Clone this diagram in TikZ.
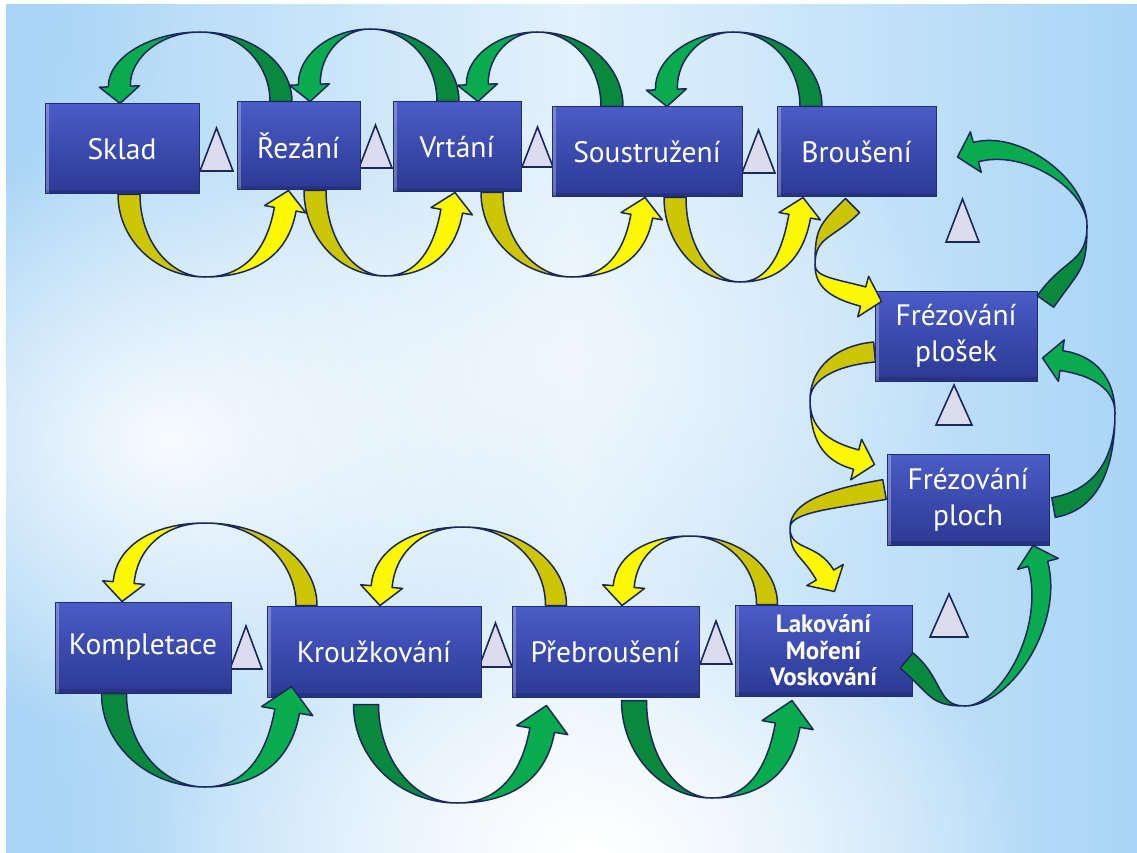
\documentclass[tikz,border=0pt]{standalone}
\usepackage{fontspec}
\setmainfont{PT Sans}
\usetikzlibrary{calc,fadings}

\definecolor{boxtop}{HTML}{4A5CC6}
\definecolor{boxbot}{HTML}{2C3994}
\definecolor{boxline}{HTML}{212D72}
\definecolor{edge}{HTML}{1B285E}
\definecolor{greendark}{HTML}{0A883D}
\definecolor{greenlight}{HTML}{08AC4F}
\definecolor{yellowdark}{HTML}{CDC500}
\definecolor{yellowlight}{HTML}{FBF800}
\definecolor{trifill}{HTML}{DCDCEE}
\definecolor{bgedge}{HTML}{A9D5F6}
\definecolor{bgmid}{HTML}{E2F1FC}

\tikzfading[name=softblob, inner color=transparent!0, outer color=transparent!100]

% band widths, head half-width and head length of the curved block arrows
\newcommand\babw{22}
\newcommand\bahw{20}
\newcommand\bahl{17}

% read a named coordinate into \<name>x, \<name>y (pt, canvas)
\newcommand\getpt[1]{%
  \pgfpointanchor{#1}{center}\pgfgetlastxy\tmpgx\tmpgy
  \pgfmathsetmacro\tmpa{\tmpgx}\pgfmathsetmacro\tmpb{\tmpgy}%
  \expandafter\let\csname #1x\endcsname\tmpa
  \expandafter\let\csname #1y\endcsname\tmpb}
% point #1 = (#2,#3) + #4 * (cos #5, sin #5)
\newcommand\setpt[5]{%
  \pgfmathsetmacro\tmpa{(#2)+(#4)*cos(#5)}%
  \pgfmathsetmacro\tmpb{(#3)+(#4)*sin(#5)}%
  \expandafter\let\csname #1x\endcsname\tmpa
  \expandafter\let\csname #1y\endcsname\tmpb
  \coordinate (#1) at (\tmpa pt,\tmpb pt);}
% projection of (#2 - #3) on direction #4
\newcommand\proj[4]{%
  \pgfmathsetmacro#1{((\csname #2x\endcsname)-(\csname #3x\endcsname))*cos(#4)+((\csname #2y\endcsname)-(\csname #3y\endcsname))*sin(#4)}}

% curved block arrow: #1 colour family, #2 tail point, #3 tail direction,
% #4 turning point, #5 direction there, #6 tip, #7 head direction
\newcommand\bandarrow[7]{%
  \path #2 coordinate (baT) #4 coordinate (baA) #6 coordinate (baH);
  \getpt{baT}\getpt{baA}\getpt{baH}%
  \pgfmathsetmacro\bas{ifthenelse(sin(#5-#3)>0,1,-1)}%
  \pgfmathsetmacro\bant{#3-\bas*90}%
  \pgfmathsetmacro\banh{#7-\bas*90}%
  \setpt{baB}{\baHx}{\baHy}{-\bahl}{#7}%
  \setpt{baTo}{\baTx}{\baTy}{0.5*\babw}{\bant}%
  \setpt{baTi}{\baTx}{\baTy}{-0.5*\babw}{\bant}%
  \setpt{baBo}{\baBx}{\baBy}{0.5*\babw}{\banh}%
  \setpt{baBi}{\baBx}{\baBy}{-0.5*\babw}{\banh}%
  \setpt{baPo}{\baBx}{\baBy}{\bahw}{\banh}%
  \setpt{baPi}{\baBx}{\baBy}{-\bahw}{\banh}%
  \proj\baa{baA}{baTo}{#3}\setpt{baCa}{\baTox}{\baToy}{0.5523*(\baa)}{#3}%
  \proj\baa{baA}{baTo}{#5}\setpt{baCb}{\baAx}{\baAy}{-0.5523*(\baa)}{#5}%
  \proj\baa{baA}{baTi}{#5}\setpt{baCc}{\baAx}{\baAy}{-0.5523*(\baa)}{#5}%
  \proj\baa{baA}{baTi}{#3}\setpt{baCd}{\baTix}{\baTiy}{0.5523*(\baa)}{#3}%
  \proj\baa{baBo}{baA}{#5}\setpt{baCe}{\baAx}{\baAy}{0.5523*(\baa)}{#5}%
  \proj\baa{baBo}{baA}{#7}\setpt{baCf}{\baBox}{\baBoy}{-0.5523*(\baa)}{#7}%
  \proj\baa{baBi}{baA}{#7}\setpt{baCg}{\baBix}{\baBiy}{-0.5523*(\baa)}{#7}%
  \proj\baa{baBi}{baA}{#5}\setpt{baCh}{\baAx}{\baAy}{0.5523*(\baa)}{#5}%
  \filldraw[band, fill=#1dark] (baTo) .. controls (baCa) and (baCb) .. (baA)
    .. controls (baCc) and (baCd) .. (baTi) -- cycle;
  \filldraw[band, fill=#1light] (baA) .. controls (baCe) and (baCf) .. (baBo)
    -- (baPo) -- (baH) -- (baPi) -- (baBi) .. controls (baCg) and (baCh) .. (baA) -- cycle;
}

% small waiting triangle: left x, right x, top y, bottom y
\newcommand\waittri[4]{%
  \filldraw[tristyle] (#1,#4) -- ({(#1+#2)/2},#3) -- (#2,#4) -- cycle;}

\tikzset{
  band/.style={draw=edge, line width=1.5pt, line join=round},
  tristyle/.style={fill=trifill, draw=edge, line width=1.6pt, line join=miter},
  stage/.style={draw=boxline, line width=1pt, top color=boxtop, bottom color=boxbot,
    text=white, align=center, inner sep=0pt,
    font=\fontsize{29.5}{36}\selectfont,
    path picture={
      \fill[white, opacity=0.28] (path picture bounding box.north west)
        rectangle ([xshift=4pt]path picture bounding box.south west);
      \fill[black, opacity=0.12] (path picture bounding box.south west)
        rectangle ([yshift=4pt]path picture bounding box.south east);
    }},
  glow/.style={fill=white, path fading=softblob, opacity=0.7},
}

\begin{document}
\begin{tikzpicture}[x=1pt, y=-1pt]
\useasboundingbox (0,0) rectangle (1137,853);

% background
\fill[white] (0,0) rectangle (1137,853);
\begin{scope}
  \clip (6,5) rectangle (1137,853);
  \shade[left color=bgedge, right color=bgedge, middle color=bgmid] (6,5) rectangle (1137,853);
  \fill[white, path fading=softblob] (590,850) ellipse (440 and 270);
  \fill[white, path fading=softblob, opacity=0.9] (170,440) ellipse (380 and 300);
  \fill[white, path fading=softblob, opacity=0.5] (560,360) ellipse (420 and 260);
  \fill[bgedge, path fading=softblob, opacity=0.7] (6,5) ellipse (170 and 150);
  \fill[bgedge, path fading=softblob, opacity=0.7] (6,853) ellipse (170 and 200);
\end{scope}

% waiting triangles
\waittri{200}{233}{128}{171}
\waittri{359}{392}{125}{168}
\waittri{522}{553}{127}{167}
\waittri{742}{775}{130}{173}
\waittri{946}{979}{199}{242}
\waittri{936}{972}{385}{425}
\waittri{930}{968}{594}{637}
\waittri{230}{262}{626}{669}
\waittri{479}{512}{623}{667}
\waittri{700}{732}{621}{664}

% stages
\node[stage, minimum width=154pt, minimum height=90pt] (sklad) at (122,149) {Sklad};
\node[stage, minimum width=123pt, minimum height=88pt] (rezani) at (298.5,146) {Řezání};
\node[stage, minimum width=128pt, minimum height=90pt] (vrtani) at (457,147) {Vrtání};
\node[stage, minimum width=190pt, minimum height=90pt] (soustruzeni) at (647,152) {Soustružení};
\node[stage, minimum width=159pt, minimum height=90pt] (brouseni) at (856.5,152) {Broušení};
\node[stage, minimum width=162pt, minimum height=90pt] (plosek) at (956,336) {Frézování\\plošek};
\node[stage, minimum width=162pt, minimum height=91pt] (ploch) at (968,499.5) {Frézování\\ploch};
\node[stage, minimum width=176pt, minimum height=91pt] (kompletace) at (143,647.5) {Kompletace};
\node[stage, minimum width=214pt, minimum height=91pt] (krouzkovani) at (374,651.5) {Kroužkování};
\node[stage, minimum width=187pt, minimum height=91pt] (prebrouseni) at (605.5,651.5) {Přebroušení};
\node[stage, minimum width=177pt, minimum height=91pt, font=\bfseries\fontsize{25}{26.5}\selectfont]
  (lakovani) at (823.5,650.5) {Lakování\\Moření\\Voskování};

% upper row: green returns over the top
\bandarrow{green}{($(rezani.north)+(-17.5,0)$)}{90}{(200,32)}{180}{($(sklad.north)+(-2,0)$)}{272}
\bandarrow{green}{($(vrtani.north)+(-9,0)$)}{90}{(370,29)}{180}{($(rezani.north)+(11.5,0)$)}{272}
\bandarrow{green}{($(soustruzeni.north)+(-35,0)$)}{90}{(537,32)}{180}{($(vrtani.north)+(21,0)$)}{272}
\bandarrow{green}{($(brouseni.north)+(-45.5,0)$)}{90}{(733,32)}{180}{($(soustruzeni.north)+(20,0)$)}{272}

% upper row: yellow flow underneath
\renewcommand\bahl{19}\renewcommand\bahw{21}
\bandarrow{yellow}{($(sklad.south)+(7,0)$)}{270}{(205,277)}{0}{($(rezani.south)+(-10,0)$)}{80}
\bandarrow{yellow}{($(rezani.south)+(16.5,0)$)}{270}{(385,276)}{0}{($(vrtani.south)+(-2,0)$)}{80}
\bandarrow{yellow}{($(vrtani.south)+(35,0)$)}{270}{(572,277)}{0}{($(soustruzeni.south)+(-2,0)$)}{80}
\bandarrow{yellow}{($(soustruzeni.south)+(28,0)$)}{270}{(740,282)}{0}{($(brouseni.south)+(-53.5,0)$)}{80}

% right column
\renewcommand\babw{20}
\bandarrow{yellow}{($(brouseni.south)+(-4,8)$)}{225}{(815,265)}{270}{($(plosek.north west)+(7,11)$)}{345}
\bandarrow{yellow}{($(plosek.west)+(0,16)$)}{185}{(810,400)}{270}{($(ploch.north west)+(-12,11)$)}{345}
\bandarrow{yellow}{($(ploch.west)+(-2,-10)$)}{190}{(790,528)}{270}{($(lakovani.north)+(11,-13)$)}{300}
\bandarrow{green}{($(plosek.north east)+(8,11)$)}{55}{(1087,225)}{90}{($(brouseni.east)+(21,5)$)}{195}
\bandarrow{green}{($(ploch.east)+(4,8)$)}{10}{(1115,413)}{90}{($(plosek.east)+(5,22)$)}{172}
\bandarrow{green}{($(lakovani.east)+(-6,10)$)}{320}{(965,706)}{0}{($(ploch.south)+(65,0)$)}{105}

% lower row: yellow flow over the top
\renewcommand\babw{21}
\bandarrow{yellow}{($(krouzkovani.north west)+(40,0)$)}{90}{(205,523)}{180}{($(kompletace.north)+(-21,0)$)}{265}
\bandarrow{yellow}{($(prebrouseni.north)+(-49.5,0)$)}{90}{(463,527)}{180}{($(krouzkovani.north)+(6,0)$)}{265}
\bandarrow{yellow}{($(lakovani.north)+(-56.5,0)$)}{90}{(690,536)}{180}{($(prebrouseni.north)+(16.5,0)$)}{265}

% lower row: green returns underneath
\renewcommand\babw{25}\renewcommand\bahw{26}\renewcommand\bahl{25}
\bandarrow{green}{($(kompletace.south)+(-29,0)$)}{270}{(205,787)}{0}{($(krouzkovani.south west)+(25,-11)$)}{80}
\bandarrow{green}{($(krouzkovani.south)+(-8,7)$)}{270}{(457,803)}{0}{($(prebrouseni.south west)+(35,8)$)}{80}
\bandarrow{green}{($(prebrouseni.south)+(28.5,3)$)}{270}{(712,798)}{0}{($(lakovani.south)+(-31.5,4)$)}{80}

\end{tikzpicture}
\end{document}
